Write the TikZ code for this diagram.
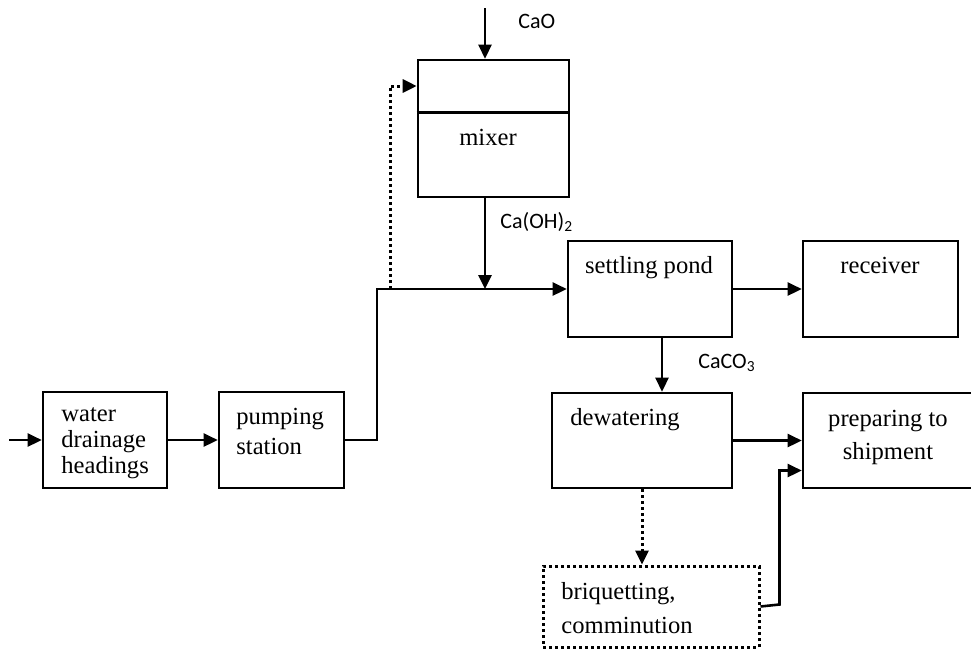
\documentclass[tikz,border=0pt]{standalone}
\usepackage{fontspec}
\setmainfont{Liberation Serif}
\newfontfamily\calib{Carlito}
\usetikzlibrary{arrows.meta,calc}

\begin{document}
\begin{tikzpicture}[x=0.5pt,y=-0.5pt,
  bloc/.style={draw,line width=1.3pt,inner sep=0pt,minimum height=48pt},
  txt/.style={inner sep=0pt,font=\fontsize{12.3}{#1}\selectfont},
  txt/.default=14,
  chem/.style={inner sep=0pt,anchor=base west,font=\calib\fontsize{11}{13}\selectfont},
  flow/.style={line width=1.3pt,-{Triangle[length=7pt,width=6.5pt]}},
  dotline/.style={line width=1.5pt,dash pattern=on 1.5pt off 1.5pt},
  dotflow/.style={flow,dotline}]
\useasboundingbox (0,0) rectangle (971,649);

\node[bloc,minimum width=62pt] (water) at (105,440) {};
\node[bloc,minimum width=62.5pt] (pump) at (281.5,440) {};
\node[bloc,minimum width=75.5pt,minimum height=68.5pt] (mixer) at (493.5,128.5) {};
\node[bloc,minimum width=82pt] (settle) at (650,289) {};
\node[bloc,minimum width=77.5pt] (receiver) at (880.5,289) {};
\node[bloc,minimum width=90pt,minimum height=47.5pt] (dewater) at (642,440.5) {};
\node[bloc,minimum width=85pt,minimum height=47.5pt] (prep) at (888,440.5) {};
\node[bloc,dotline,minimum width=108pt,minimum height=40.5pt] (briq) at (651,606.5) {};
\draw[line width=1.3pt] ($(mixer.north west)+(0,54)$) -- ($(mixer.north east)+(0,54)$);

\node[txt=13,anchor=north west,align=left] (twater) at (61,403) {\strut water\\drainage\\headings};
\node[txt=15,anchor=north west,align=left] (tpump) at (236,403) {\strut pumping\\station};
\node[txt,anchor=base] (tmixer) at (488,145) {mixer};
\node[txt,anchor=base] (tsettle) at (649,273) {settling pond};
\node[txt,anchor=base] (treceiver) at (880,273) {receiver};
\node[txt,anchor=base west] (tdewater) at (570,425) {dewatering};
\node[txt=16.5,anchor=north,align=center] (tprep) at (888,403) {\strut preparing to\\shipment};
\node[txt=17,anchor=north west,align=left] (tbriq) at (561,575) {\strut briquetting,\\comminution};

\coordinate (inlet) at (9,440);
\coordinate (bend) at (377,289);
\coordinate (tap) at (390,289);
\coordinate (recycle) at (390,86);
\coordinate (lime) at (485,8);

\draw[flow] (inlet) -- (water);
\draw[flow] (water) -- (pump);
\draw[flow] (pump.east) -| (bend) -- (settle.west);
\draw[dotflow] (tap) -- (recycle) -- (mixer.west |- recycle);
\draw[flow] (lime) -- (lime |- mixer.north);
\draw[flow] (lime |- mixer.south) -- (lime |- bend);
\draw[flow] (settle) -- (receiver);
\draw[flow] ([xshift=6pt]settle.south) -- ([xshift=6pt]settle.south |- dewater.north);
\draw[flow] (dewater) -- (prep);
\draw[dotflow] (dewater.south) -- (dewater.south |- briq.north);
\draw[flow] (briq.east) -- ++(19,-2) |- ($(prep.west)+(0,30)$);

\node[chem] (cao) at (518,28) {CaO};
\node[chem] (caoh) at (500,228) {Ca(OH)\textsubscript{2}};
\node[chem] (caco) at (698,368) {CaCO\textsubscript{3}};
\end{tikzpicture}
\end{document}
